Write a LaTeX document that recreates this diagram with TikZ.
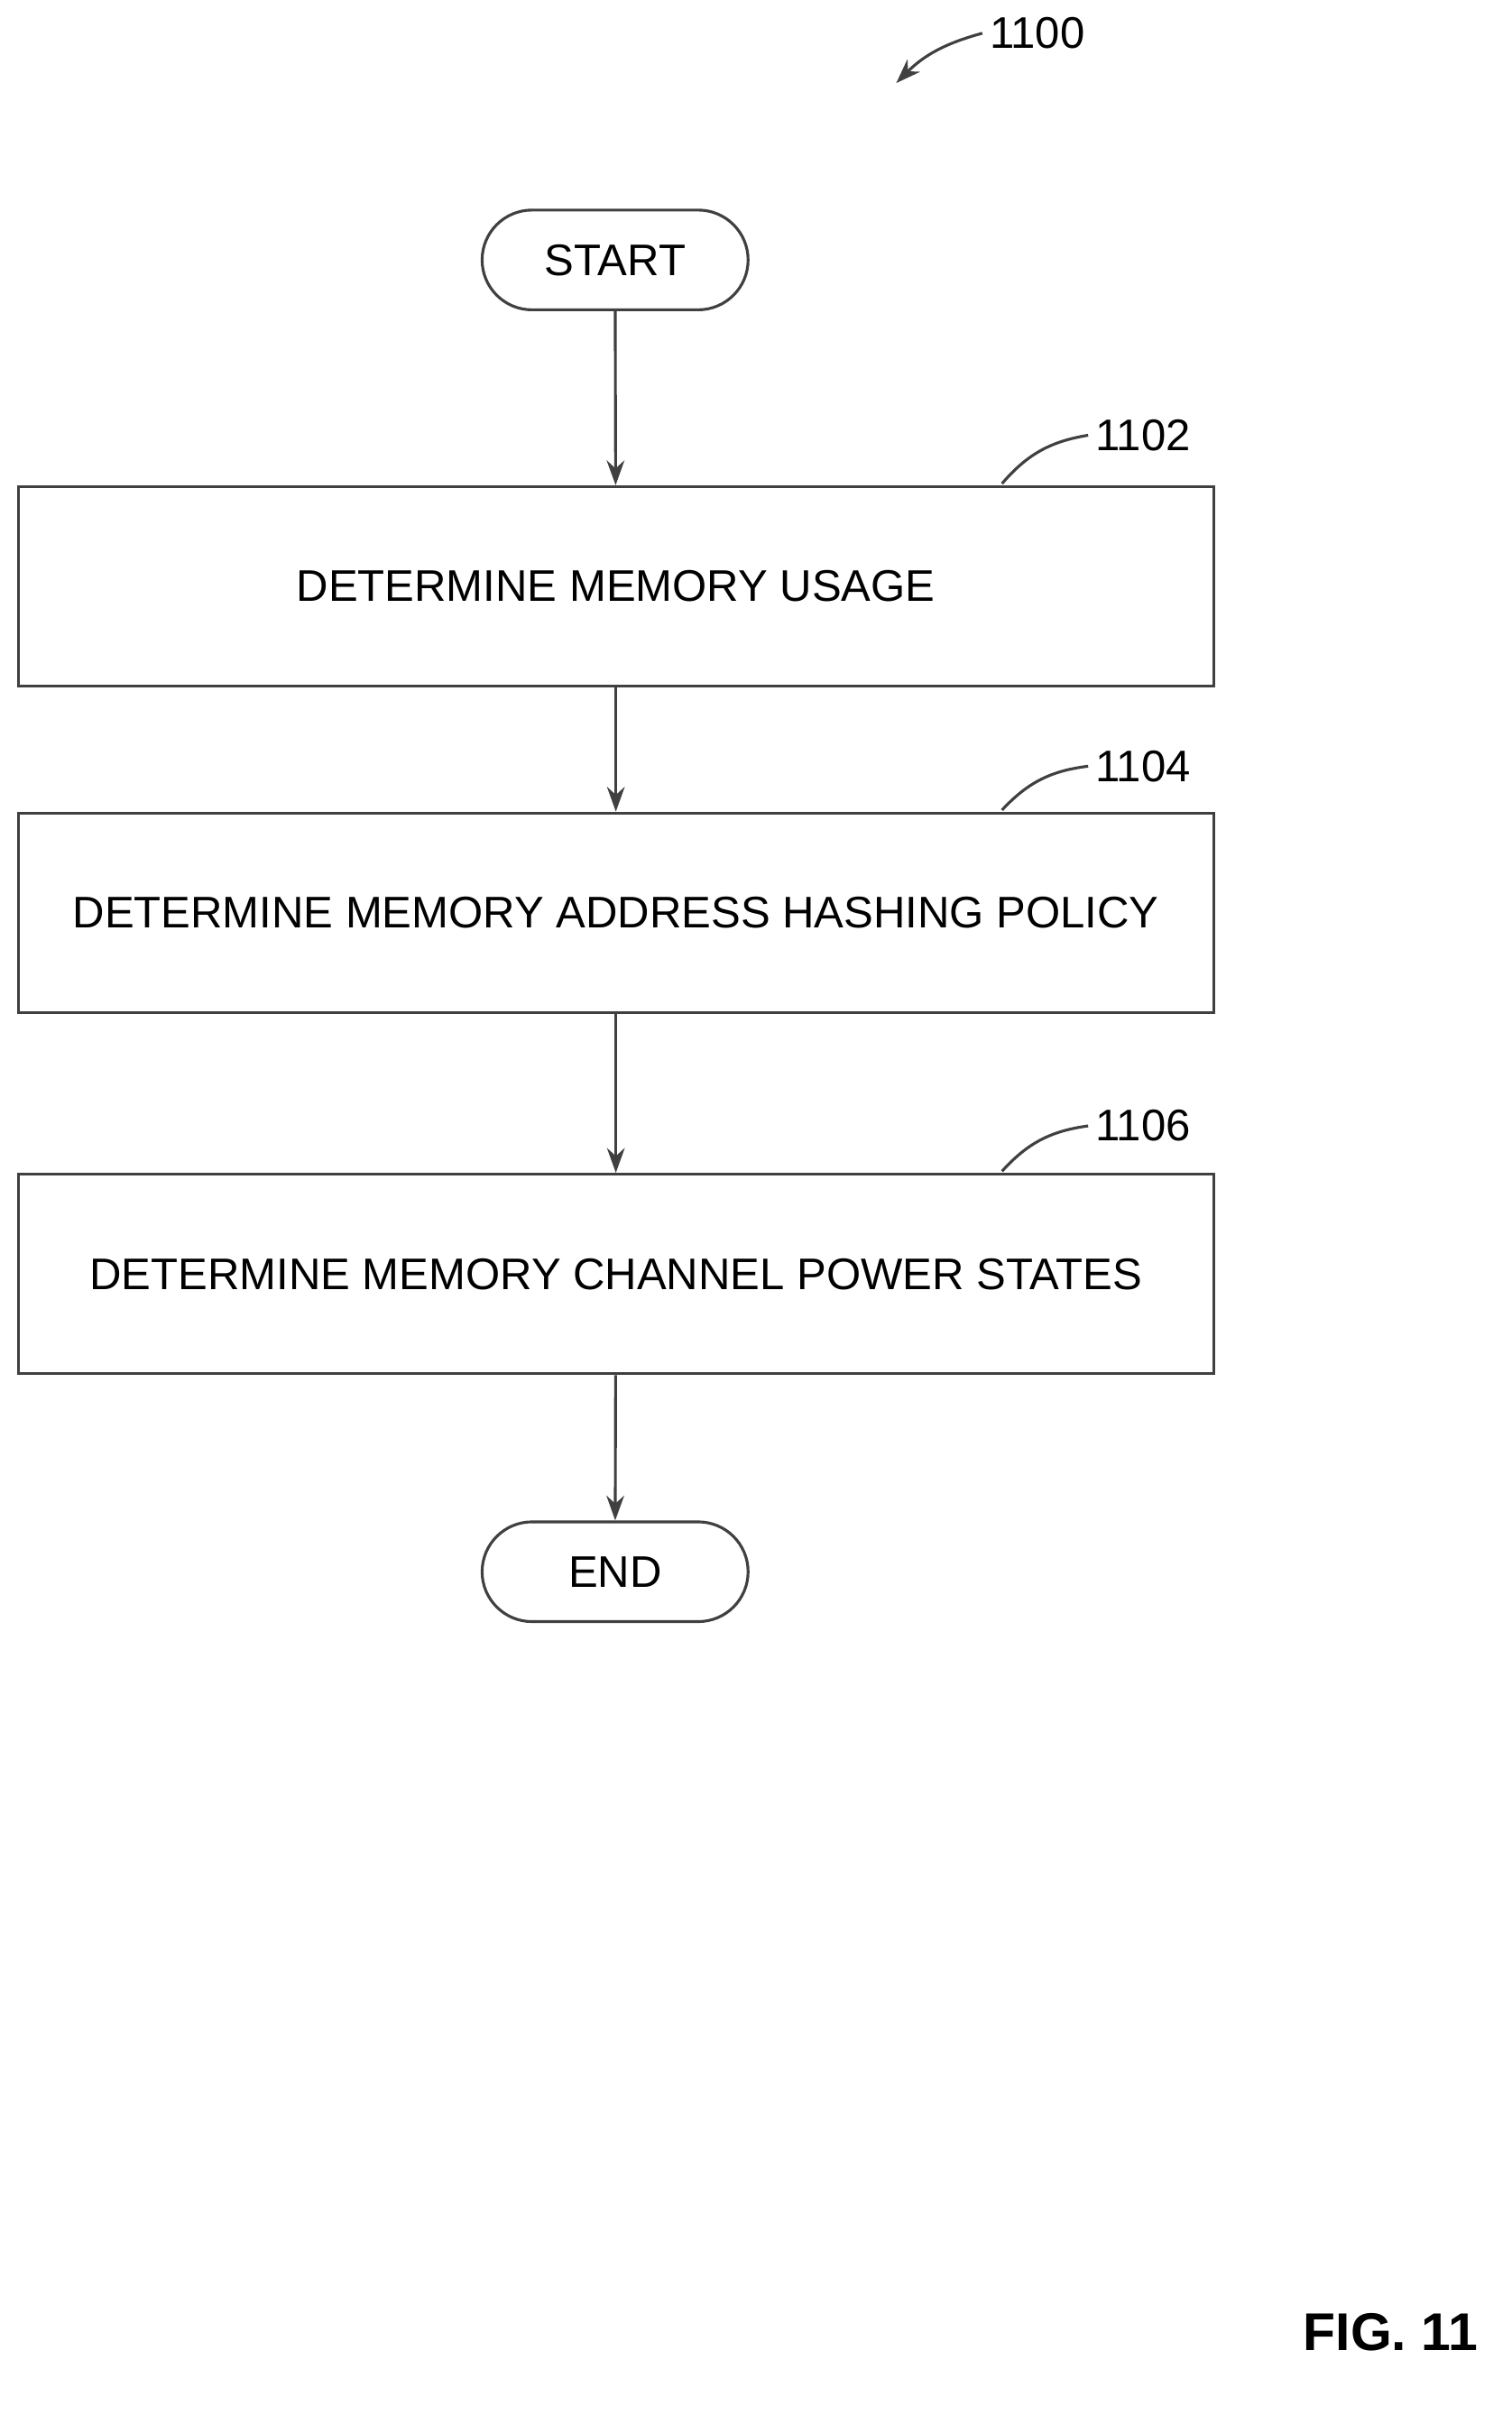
\documentclass[tikz,border=0pt]{standalone}
\usepackage{fontspec}
\setmainfont{Liberation Sans}
\usetikzlibrary{shapes.misc,arrows.meta}
\begin{document}
\begin{tikzpicture}[x=0.03cm,y=-0.03cm,line width=1.6pt,>={Stealth[length=14pt,width=10pt]},
    font=\fontsize{25}{30}\selectfont]
    \useasboundingbox (0,0) rectangle (1000,1598);
    \begin{scope}[every node/.style={draw=black!75,inner sep=0pt}]
        \node[rounded rectangle,minimum width=176*0.03cm,minimum height=66*0.03cm] (start) at (407,172) {START};
        \node[minimum width=791*0.03cm,minimum height=132*0.03cm] (b1102) at (407.5,388) {DETERMINE MEMORY USAGE};
        \node[minimum width=791*0.03cm,minimum height=132*0.03cm] (b1104) at (407.5,604) {DETERMINE MEMORY ADDRESS HASHING POLICY};
        \node[minimum width=791*0.03cm,minimum height=132*0.03cm] (b1106) at (407.5,843) {DETERMINE MEMORY CHANNEL POWER STATES};
        \node[rounded rectangle,minimum width=176*0.03cm,minimum height=66*0.03cm] (end) at (407,1040) {END};
    \end{scope}
    \draw[->,black!75] (start) -- (b1102);
    \draw[->,black!75] (b1102) -- (b1104);
    \draw[->,black!75] (b1104) -- (b1106);
    \draw[->,black!75] (b1106) -- (end);
    % reference labels
    \node[anchor=west] (l1100) at (650,22) {1100};
    \coordinate (a1100) at (593,55);
    \draw[->,black!75] (l1100.west) to[bend right=15] (a1100);
    \node[anchor=west] (l1102) at (720,288) {1102};
    \draw[black!75] (l1102.west) to[bend right=20] (663,320);
    \node[anchor=west] (l1104) at (720,507) {1104};
    \draw[black!75] (l1104.west) to[bend right=20] (663,536);
    \node[anchor=west] (l1106) at (720,745) {1106};
    \draw[black!75] (l1106.west) to[bend right=20] (663,775);
    \node[font=\fontsize{30}{34}\selectfont\bfseries] (fig) at (920,1543) {FIG. 11};
\end{tikzpicture}
\end{document}
